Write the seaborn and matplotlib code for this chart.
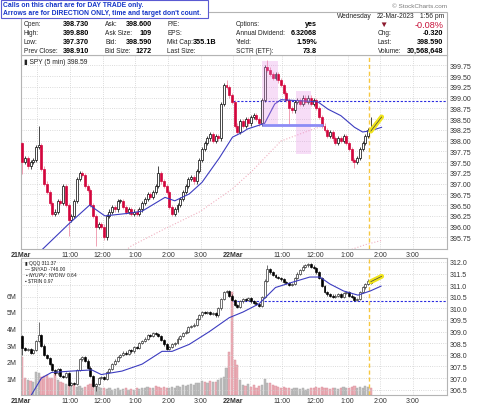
import numpy as np
import pandas as pd
import matplotlib
matplotlib.use("Agg")
import matplotlib.pyplot as plt
import seaborn as sns
from matplotlib.patches import Rectangle

W, H = 480, 406

# ---- values (5 min bars, 21Mar 9:30 = bar 0, 22Mar 9:30 = bar 78) ----
spy_open_first = 397.95
spy_close = [
    397.50, 397.60, 397.40, 397.50, 397.55, 397.85, 397.90, 397.35, 397.00, 396.80,
    396.55, 396.30, 396.35, 396.60, 396.55, 396.95, 396.50, 396.15, 396.25, 396.60,
    397.10, 397.25, 397.20, 396.95, 396.85, 396.50, 396.25, 396.00, 396.05, 396.00,
    395.75, 396.25, 396.35, 396.45, 396.40, 396.60, 396.60, 396.45, 396.35, 396.40,
    396.30, 396.35, 396.30, 396.40, 396.55, 396.65, 396.75, 396.70, 396.80, 396.95,
    397.25, 397.05, 396.95, 396.80, 396.45, 396.30, 396.40, 396.50, 396.65, 396.80,
    396.95, 397.10, 397.15, 397.05, 397.30, 397.55, 397.80, 397.95, 398.05, 398.15,
    398.00, 398.10, 398.05, 398.85, 399.30, 399.25, 399.05, 398.90,
    398.35, 398.20, 398.45, 398.35, 398.50, 398.40, 398.55, 398.60, 398.50, 398.40,
    398.95, 399.70, 399.65, 399.55, 399.45, 399.55, 399.40, 399.30, 399.10, 398.95,
    398.75, 398.70, 398.90, 398.95, 398.85, 399.00, 398.90, 399.00, 398.85, 398.95,
    398.75, 398.55, 398.35, 398.25, 398.10, 398.20, 398.05, 397.95, 398.05, 398.00,
    398.10, 397.95, 397.80, 397.55, 397.50, 397.60, 397.80, 397.95, 398.10, 398.25,
    398.30]
spy_high = {0: 397.97, 6: 398.34, 50: 397.40, 73: 398.90, 75: 399.40, 90: 399.88, 128: 398.55}
spy_low = {0: 397.22, 17: 395.78, 27: 395.55, 98: 398.38, 122: 397.37}

qqq_open_first = 308.80
qqq_close = [
    308.30, 308.20, 308.25, 308.10, 308.20, 308.60, 308.85, 308.40, 308.00, 307.85,
    307.60, 307.35, 307.20, 307.40, 307.10, 307.05, 307.20, 306.70, 306.80, 306.75,
    307.35, 307.80, 307.90, 307.75, 307.45, 307.10, 306.65, 306.75, 307.00, 307.05,
    306.95, 307.25, 307.40, 307.60, 307.75, 307.90, 308.00, 308.10, 308.05, 308.20,
    308.15, 308.35, 308.30, 308.50, 308.60, 308.70, 308.85, 308.80, 308.95, 308.90,
    308.80, 308.65, 308.45, 308.25, 308.35, 308.45, 308.50, 308.70, 308.80, 308.95,
    309.00, 309.20, 309.25, 309.30, 309.55, 309.70, 309.85, 309.80, 309.85, 309.75,
    309.80, 309.70, 310.00, 310.40, 310.70, 310.75, 310.55, 310.35,
    310.15, 310.05, 310.30, 310.40, 310.35, 310.45, 310.30, 310.25, 310.20, 310.10,
    310.50, 311.20, 311.70, 311.55, 311.45, 311.35, 311.30, 311.25, 311.15, 311.10,
    311.00, 311.05, 311.30, 311.50, 311.65, 311.80, 311.85, 311.90, 311.80, 311.75,
    311.55, 311.30, 310.95, 310.70, 310.60, 310.55, 310.50, 310.55, 310.60, 310.50,
    310.65, 310.70, 310.55, 310.50, 310.35, 310.40, 310.70, 310.90, 311.05, 311.20,
    311.10]
qqq_high = {6: 309.40, 90: 311.85}
qqq_low = {0: 308.00, 27: 306.45}

volume_m = [
    2.30, 1.05, 0.90, 0.85, 0.80, 1.40, 1.35, 1.10, 1.15, 1.20,
    1.00, 1.05, 1.30, 0.90, 0.80, 0.75, 0.65, 0.60, 0.55, 0.60,
    0.50, 0.55, 0.45, 0.50, 0.60, 0.65, 0.90, 0.60, 0.50, 0.45,
    0.40, 0.35, 0.40, 0.30, 0.35, 0.40, 0.30, 0.35, 0.40, 0.30,
    0.35, 0.30, 0.40, 0.35, 0.45, 0.40, 0.50, 0.40, 0.45, 0.55,
    0.50, 0.45, 0.50, 0.40, 0.45, 0.50, 0.45, 0.55, 0.50, 0.60,
    0.55, 0.60, 0.65, 0.60, 0.70, 0.75, 0.85, 0.80, 0.75, 0.85,
    0.80, 0.80, 0.90, 1.05, 1.10, 1.60, 2.60, 6.20,
    2.10, 1.80, 0.90, 0.60, 0.55, 0.65, 0.50, 0.60, 0.45, 0.55,
    0.60, 0.95, 0.75, 0.70, 0.60, 0.55, 0.50, 0.45, 0.50, 0.40,
    0.45, 0.35, 0.40, 0.45, 0.35, 0.40, 0.30, 0.35, 0.45, 0.40,
    0.50, 0.45, 0.50, 0.40, 0.45, 0.35, 0.40, 0.45, 0.35, 0.40,
    0.50, 0.45, 0.40, 0.50, 0.55, 0.45, 0.50, 0.45, 0.55, 0.50,
    0.45]

spy_ma_bar = [7, 17, 24.7, 30.3, 39, 44, 52.4, 56, 61.3, 66, 72.4, 77.2, 81, 82.7,
              89, 92.7, 95, 101, 108.6, 112.3, 117, 122, 125, 128, 132]
spy_ma = [395.45, 396.06, 396.50, 396.25, 396.31, 396.36, 396.68, 396.60, 396.76, 397.03,
          397.60, 398.08, 398.20, 398.27, 398.40, 398.85, 398.95, 398.93, 398.90, 398.73,
          398.58, 398.31, 398.20, 398.23, 398.31]
spy_slow_bar = [38, 40, 52, 65, 77, 84.5, 95, 107, 111]
spy_slow = [395.45, 395.55, 395.94, 396.34, 396.87, 397.30, 397.99, 398.27, 398.35]
spy_slow2_bar = [120, 126, 132]
spy_slow2 = [395.45, 395.58, 395.68]

qqq_ma_bar = [3.3, 7, 10.7, 18, 25.5, 29, 36.6, 44, 51.3, 55, 61.3, 68.7, 76, 81, 87,
              93, 99.3, 105.6, 109.3, 113, 118, 123.3, 127.8, 131.8]
qqq_ma = [306.27, 307.00, 307.24, 307.30, 307.35, 307.15, 307.30, 307.60, 308.15, 308.15,
          308.45, 309.00, 309.60, 309.84, 310.20, 310.90, 311.13, 311.35, 311.35, 311.05,
          310.75, 310.57, 310.75, 310.96]

spy_prev_close = 398.91
qqq_level = 310.31
now_bar = 127.5
spy_arrow = ([128, 132], [398.22, 398.55])
qqq_arrow = ([128, 132], [311.15, 311.38])
zones = [(88.0, 93.9, 398.38, 399.86), (100.5, 105.9, 397.69, 399.16)]
support = (88.0, 110.4, 398.37)

hour_pos = [-0.5, 5.5, 17.5, 29.5, 41.5, 53.5, 65.5, 77.5, 83.5, 95.5, 107.5, 119.5, 131.5, 143.5]
hour_lab = ['21Mar', '', '11:00', '12:00', '1:00', '2:00', '3:00', '22Mar', '',
            '11:00', '12:00', '1:00', '2:00', '3:00']
spy_ticks = [395.75, 396.00, 396.25, 396.50, 396.75, 397.00, 397.25, 397.50, 397.75,
             398.00, 398.25, 398.50, 398.75, 399.00, 399.25, 399.50, 399.75]
qqq_ticks = [306.5, 307.0, 307.5, 308.0, 308.5, 309.0, 309.5, 310.0, 310.5, 311.0, 311.5, 312.0]
vol_ticks = [1, 2, 3, 4, 5, 6]


def ohlc(close, first_open, hi, lo, pad):
    c = np.array(close)
    o = np.r_[first_open, c[:-1]]
    h = np.maximum(o, c) + pad
    l = np.minimum(o, c) - pad
    for k, v in hi.items():
        h[k] = v
    for k, v in lo.items():
        l[k] = v
    return pd.DataFrame(dict(bar=np.arange(len(c)), open=o, high=h, low=l, close=c))


def draw_candles(ax, df, styles, lw, minbody):
    up = df.close >= df.open
    for mask, (face, edge, wick) in zip([up, ~up], styles):
        d = df[mask]
        ax.vlines(d.bar, d.low, d.high, color=wick, lw=lw, zorder=3)
        body = (d.close - d.open).abs().clip(lower=minbody)
        ax.bar(d.bar, body, bottom=np.minimum(d.open, d.close), width=0.72,
               color=face, edgecolor=edge, linewidth=lw, zorder=4)


def fx(x, y):
    return x / W, 1 - y / H


def style_axis(ax):
    for s in ax.spines.values():
        s.set_color('#b4b4b4')
        s.set_linewidth(0.8)
    ax.set_xlim(-0.5, 156)
    ax.set_xticks(hour_pos)
    ax.set_xticklabels(hour_lab)
    ax.tick_params(axis='x', length=0, pad=1.5, labelsize=5, colors='#333333')
    for t in ax.get_xticklabels():
        if 'Mar' in t.get_text():
            t.set_fontweight('bold')
    ax.grid(True, ls=':', color='#cfcfcf', lw=0.6)
    ax.set_xlabel('')
    ax.set_ylabel('')


sns.set_style("white")
plt.rcParams['font.family'] = ['Liberation Sans', 'DejaVu Sans']

fig = plt.figure(figsize=(W / 100, H / 100), dpi=100)

spy = ohlc(spy_close, spy_open_first, spy_high, spy_low, 0.05)
qqq = ohlc(qqq_close, qqq_open_first, qqq_high, qqq_low, 0.05)

# ---------------- SPY panel ----------------
ax = fig.add_axes([21 / W, (H - 250) / H, 426 / W, 194 / H])
style_axis(ax)
ax.set_ylim(395.48, 399.99)
ax.yaxis.tick_right()
ax.set_yticks(spy_ticks)
ax.set_yticklabels([f'{v:.2f}' for v in spy_ticks])
ax.tick_params(axis='y', length=0, pad=2, labelsize=5, colors='#333333')

ax.hlines(spy_prev_close, 77.5, 156, colors='#2b2be0', lw=0.8, linestyles=(0, (2, 1.5)), zorder=2)
draw_candles(ax, spy, [('white', 'black', 'black'), ('#d3063d', '#d3063d', '#eb7d98')], 0.5, 0.015)
sns.lineplot(x=spy_slow_bar, y=spy_slow, ax=ax, color='#f0b0c0', lw=0.8, ls=':', zorder=2)
sns.lineplot(x=spy_slow2_bar, y=spy_slow2, ax=ax, color='#f0b0c0', lw=0.8, ls=':', zorder=2)
sns.lineplot(x=spy_ma_bar, y=spy_ma, ax=ax, color='#3c3cc0', lw=0.8, zorder=5)
for x0, x1, y0, y1 in zones:
    ax.add_patch(Rectangle((x0, y0), x1 - x0, y1 - y0, facecolor='#e690e6', alpha=0.3,
                           lw=0, zorder=6))
ax.hlines(support[2], support[0], support[1], colors='#8c8cf5', lw=2, zorder=6)
ax.axvline(now_bar, color='#f8c840', lw=1, ls=(0, (3, 2)), zorder=2)
ax.plot(*spy_arrow, color='#f0e41c', lw=3.5, solid_capstyle='round', zorder=7)
ax.plot(*spy_arrow, color='#444444', lw=0.5, zorder=8)
ax.set_xlabel('')
ax.set_ylabel('')
ax.text(0.008, 0.985, '\u25ae SPY (5 min) 398.59', transform=ax.transAxes, fontsize=4.8,
        va='top', ha='left', color='#222222')

# ---------------- QQQ + volume panel ----------------
axv = fig.add_axes([21 / W, (H - 396) / H, 426 / W, 137 / H])
style_axis(axv)
axv.set_ylim(0, 8.25)
vol_col = ['#ebb1b9' if c < o else '#bdbdbd' for o, c in zip(qqq.open, qqq.close)]
vol_edge = ['#d98a97' if c < o else '#a8a8a8' for o, c in zip(qqq.open, qqq.close)]
axv.bar(qqq.bar, volume_m, width=0.8, color=vol_col, edgecolor=vol_edge, linewidth=0.3, zorder=2)
axv.set_yticks(vol_ticks)
axv.set_yticklabels([f'{v}M' for v in vol_ticks])
axv.tick_params(axis='y', length=0, pad=3, labelsize=5, colors='#333333')
axv.grid(False, axis='y')

axp = axv.twinx()
axp.set_ylim(306.27, 312.17)
axp.set_yticks(qqq_ticks)
axp.set_yticklabels([f'{v:.1f}' for v in qqq_ticks])
axp.tick_params(axis='y', length=0, pad=2, labelsize=5, colors='#333333')
for s in axp.spines.values():
    s.set_visible(False)
axp.grid(True, axis='y', ls=':', color='#cfcfcf', lw=0.6)
axp.hlines(qqq_level, 77.5, 156, colors='#2b2be0', lw=0.8, linestyles=(0, (2, 1.5)), zorder=2)
draw_candles(axp, qqq, [('white', '#222222', '#222222'), ('black', 'black', 'black')], 0.45, 0.01)
sns.lineplot(x=qqq_ma_bar, y=qqq_ma, ax=axp, color='#3c3cc0', lw=0.8, zorder=5)
axp.axvline(now_bar, color='#f8c840', lw=1, ls=(0, (3, 2)), zorder=2)
axp.plot(*qqq_arrow, color='#f0e41c', lw=3.5, solid_capstyle='round', zorder=7)
axp.plot(*qqq_arrow, color='#444444', lw=0.5, zorder=8)
axp.set_xlim(-0.5, 156)
axp.set_xlabel('')
axp.set_ylabel('')

legend_lines = ['\u25ae QQQ 311.37', '\u2014 $NYAD -746.00', '\u25aa $NYUPV:$NYDNV 0.64', '\u25aa $TRIN 0.97']
for i, s in enumerate(legend_lines):
    fig.text(*fx(25, 263.5 + i * 5.9), s, fontsize=3.5, va='center', ha='left', color='#222222',
             zorder=9)

# ---------------- header ----------------
fig.add_artist(Rectangle(fx(21, 56), 426 / W, 43 / H, transform=fig.transFigure,
                         facecolor='white', edgecolor='#b4b4b4', lw=0.8, zorder=0.5))
rows_y = [25, 33.8, 42.7, 51.5]
header_cols = [
    (24, 89, [('Open:', '398.730'), ('High:', '399.880'), ('Low:', '397.370'), ('Prev Close:', '398.910')]),
    (105, 152, [('Ask:', '398.600'), ('Ask Size:', '109'), ('Bid:', '398.590'), ('Bid Size:', '1272')]),
    (167, 216, [('P/E:', ''), ('EPS:', ''), ('Mkt Cap:', '355.1B'), ('Last Size:', '')]),
    (236, 317, [('Options:', 'yes'), ('Annual Dividend:', '6.32068'), ('Yield:', '1.59%'),
                ('SCTR (ETF):', '73.8')]),
    (378, 443, [('', ''), ('Chg:', '-0.320'), ('Last:', '398.590'), ('Volume:', '30,568,648')]),
]
for xl, xr, items in header_cols:
    for yy, (lab, val) in zip(rows_y, items):
        fig.text(*fx(xl, yy), lab, fontsize=4.7, va='center', ha='left', color='#222222', zorder=3)
        fig.text(*fx(xr, yy), val, fontsize=5.2, va='center', ha='right', color='black',
                 fontweight='bold', zorder=3)
fig.text(*fx(337, 16.5), 'Wednesday', fontsize=4.8, va='center', ha='left', color='#222222')
fig.text(*fx(377, 16.5), '22-Mar-2023', fontsize=4.8, va='center', ha='left', color='#222222')
fig.text(*fx(444, 16.5), '1:56 pm', fontsize=4.8, va='center', ha='right', color='#222222')
fig.text(*fx(383, 25), '\u25bc', fontsize=6, va='center', ha='center', color='#8c1a2e')
fig.text(*fx(444, 25.5), '-0.08%', fontsize=6.6, va='center', ha='right', color='#c8143c')
fig.text(*fx(447, 6.5), '\u00a9 StockCharts.com', fontsize=4.6, va='center', ha='right', color='#7a7a7a')

# ---------------- call-out box ----------------
fig.add_artist(Rectangle(fx(0.5, 19), 207 / W, 18.5 / H, transform=fig.transFigure,
                         facecolor='white', edgecolor='#5a5ad2', lw=0.8, zorder=10))
fig.text(*fx(3, 5.5), 'Calls on this chart are for DAY TRADE only.', fontsize=4.9,
         fontweight='bold', color='#1536c8', va='center', ha='left', zorder=11)
fig.text(*fx(3, 13.8), "Arrows are for DIRECTION ONLY, time and target don't count.", fontsize=4.9,
         fontweight='bold', color='#1536c8', va='center', ha='left', zorder=11)

fig.savefig('out.png', dpi=100)
